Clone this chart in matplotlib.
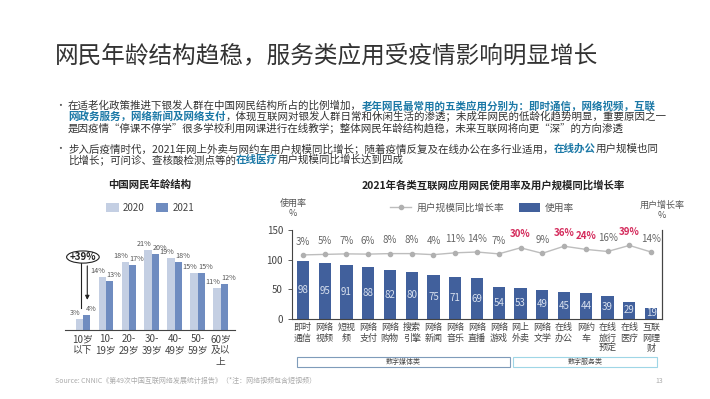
import matplotlib
matplotlib.use("Agg")
import matplotlib.pyplot as plt
from matplotlib.patches import Ellipse, Rectangle
import numpy as np

plt.rcParams['font.family'] = ['Noto Sans CJK SC', 'DejaVu Sans']

# ---------------- data ----------------
age_groups = ["10岁\n以下", "10-\n19岁", "20-\n29岁", "30-\n39岁", "40-\n49岁", "50-\n59岁", "60岁\n及以\n上"]
age_2020 = [3, 14, 18, 21, 19, 15, 11]
age_2021 = [4, 13, 17, 20, 18, 15, 12]

apps = ["即时\n通信", "网络\n视频", "短视\n频", "网络\n支付", "网络\n购物", "搜索\n引擎", "网络\n新闻",
        "网络\n音乐", "网络\n直播", "网络\n游戏", "网上\n外卖", "网络\n文学", "在线\n办公", "网约\n车",
        "在线\n旅行\n预定", "在线\n医疗", "互联\n网理\n财"]
usage = [98, 95, 91, 88, 82, 80, 75, 71, 69, 54, 53, 49, 45, 44, 39, 29, 19]
growth = [3, 5, 7, 6, 8, 8, 4, 11, 14, 7, 30, 9, 36, 24, 16, 39, 14]
highlight = [30, 36, 24, 39]

W, H = 710, 399
fig = plt.figure(figsize=(W / 100, H / 100), dpi=100)
fig.patch.set_facecolor("white")


def fx(x):
    return x / W


def fy(y):
    return 1 - y / H


# ---------------- title ----------------
fig.text(fx(55), fy(56), "网民年龄结构趋稳，服务类应用受疫情影响明显增长", fontsize=17,
         color="#333333", va="center", ha="left")

# ---------------- bullets ----------------
TEAL = "#1b78a6"
DARK = "#333333"
renderer = fig.canvas.get_renderer()


def rich(x, y, segs, size=7.55):
    xx = fx(x)
    for txt, col, bold in segs:
        t = fig.text(xx, fy(y), txt, fontsize=size, color=col,
                     fontweight="bold" if bold else "normal", va="center", ha="left")
        bb = t.get_window_extent(renderer)
        xx += bb.width / W


fig.text(fx(55), fy(106), "•", fontsize=7, color="#555555", va="center")
rich(68, 106, [("在适老化政策推进下银发人群在中国网民结构所占的比例增加，", DARK, False),
               ("老年网民最常用的五类应用分别为：即时通信，网络视频，互联", TEAL, True)])
rich(68, 117, [("网政务服务，网络新闻及网络支付", TEAL, True),
               ("，体现互联网对银发人群日常和休闲生活的渗透；未成年网民的低龄化趋势明显，重要原因之一", DARK, False)])
rich(68, 128, [("是因疫情“停课不停学”很多学校利用网课进行在线教学；整体网民年龄结构趋稳，未来互联网将向更“深”的方向渗透", DARK, False)])
fig.text(fx(55), fy(149), "•", fontsize=7, color="#555555", va="center")
rich(68, 149, [("步入后疫情时代，2021年网上外卖与网约车用户规模同比增长；随着疫情反复及在线办公在多行业适用，", DARK, False),
               ("在线办公", TEAL, True), ("用户规模也同", DARK, False)])
rich(68, 160, [("比增长；可问诊、查核酸检测点等的", DARK, False), ("在线医疗", TEAL, True),
               ("用户规模同比增长达到四成", DARK, False)])

# ---------------- left chart ----------------
C2020 = "#c4cfe3"
C2021 = "#6f8cc0"
ax1 = fig.add_axes([fx(65), fy(330), fx(235) - fx(65), (330 - 216) / H])
x = np.arange(len(age_groups))
bw = 0.32
b1 = ax1.bar(x - bw / 2, age_2020, bw, color=C2020, label="2020")
b2 = ax1.bar(x + bw / 2, age_2021, bw, color=C2021, label="2021")
ax1.set_ylim(0, 30)
ax1.set_xlim(-0.78, 6.62)
for xi, v in zip(x, age_2020):
    ax1.annotate(f"{v}%", (xi - bw / 2, v), xytext=(-3.0, 1.5), textcoords="offset points",
                 ha="center", va="bottom", fontsize=5.2, color="#555555")
for xi, v in zip(x, age_2021):
    ax1.annotate(f"{v}%", (xi + bw / 2, v), xytext=(3.2, 1.5), textcoords="offset points",
                 ha="center", va="bottom", fontsize=5.2, color="#555555")
for s in ["top", "left", "right"]:
    ax1.spines[s].set_visible(False)
ax1.spines["bottom"].set_color("#444444")
ax1.spines["bottom"].set_linewidth(0.8)
ax1.set_yticks([])
ax1.set_xticks(x)
ax1.set_xticklabels(age_groups, fontsize=7, color="#444444", linespacing=1.15)
ax1.tick_params(axis="x", length=0, pad=3)

# +39% annotation
ell_y = 19.2
ax1.add_patch(Ellipse((0, ell_y), 1.42, 3.2, facecolor="white", edgecolor="#222222", lw=0.8, zorder=5))
ax1.text(0, ell_y, "+39%", ha="center", va="center", fontsize=7, fontweight="bold", color="#222222", zorder=6)
ax1.plot([-0.08, -0.08], [ell_y - 1.6, age_2020[0] + 2.8], color="#222222", lw=0.8)
ax1.annotate("", xy=(0.19, age_2021[0] + 3.2), xytext=(0.19, ell_y - 1.6),
             arrowprops=dict(arrowstyle="-|>", color="#222222", lw=0.8, mutation_scale=6))

fig.text(fx(150), fy(185), "中国网民年龄结构", fontsize=7.5, fontweight="bold", color="#222222",
         ha="center", va="center")
fig.legend(handles=[b1, b2], loc="center", bbox_to_anchor=(fx(150), fy(208)), ncol=2,
           frameon=False, fontsize=7, handlelength=1.3, handleheight=1.0, handletextpad=0.4,
           columnspacing=1.2, labelcolor="#444444")

# ---------------- right chart ----------------
CBAR = "#41609c"
ax2 = fig.add_axes([fx(292), fy(319), fx(662) - fx(292), (319 - 230) / H])
xa = np.arange(len(apps))
bars = ax2.bar(xa, usage, 0.56, color=CBAR, label="使用率")
ax2.set_xlim(-0.5, len(apps) - 0.5)
ax2.set_ylim(0, 150)
ax2.set_yticks([0, 50, 100, 150])
ax2.tick_params(axis="y", labelsize=7, colors="#444444", length=3, width=0.6)
ax2.set_xticks(xa)
ax2.set_xticklabels(apps, fontsize=6.5, color="#444444", linespacing=1.2)
ax2.tick_params(axis="x", length=0, pad=3)
for s in ["top"]:
    ax2.spines[s].set_visible(False)
for s in ["left", "bottom", "right"]:
    ax2.spines[s].set_color("#444444")
    ax2.spines[s].set_linewidth(0.8)
for xi, v in zip(xa, usage):
    ax2.text(xi, v / 2, f"{v}", ha="center", va="center", fontsize=7, color="#d8e0ee")

ax3 = ax2.twinx()
ax3.set_ylim(-240, 97.5)
ax3.set_yticks([])
for s in ["top", "left", "bottom"]:
    ax3.spines[s].set_visible(False)
ax3.spines["right"].set_color("#444444")
ax3.spines["right"].set_linewidth(0.8)
line, = ax3.plot(xa, growth, color="#bdbdbd", lw=1.0, marker="o", markersize=3,
                 markerfacecolor="#b0b0b0", markeredgecolor="#b0b0b0", label="用户规模同比增长率")
for xi, g in zip(xa, growth):
    if g in highlight:
        ax3.annotate(f"{g}%", (xi, g), xytext=(0, 6), textcoords="offset points", ha="center",
                     va="bottom", fontsize=7, fontweight="bold", color="#d42a5b")
    else:
        ax3.annotate(f"{g}%", (xi, g), xytext=(0, 6), textcoords="offset points", ha="center",
                     va="bottom", fontsize=7, color="#666666")

fig.text(fx(493), fy(185), "2021年各类互联网应用网民使用率及用户规模同比增长率", fontsize=7.5,
         fontweight="bold", color="#222222", ha="center", va="center")
fig.legend(handles=[line, bars], loc="center", bbox_to_anchor=(fx(482), fy(208)), ncol=2,
           frameon=False, fontsize=7, handlelength=2.2, handleheight=1.0, handletextpad=0.5,
           columnspacing=1.5, labelcolor="#555555")
fig.text(fx(293), fy(208), "使用率\n%", fontsize=6.5, color="#555555", ha="center", va="center",
         linespacing=1.2)
fig.text(fx(662), fy(210), "用户增长率\n%", fontsize=6.5, color="#555555", ha="center", va="center",
         linespacing=1.2)

# category boxes
fig.patches.append(Rectangle((fx(297), fy(367)), fx(510) - fx(297), 10 / H, transform=fig.transFigure,
                             facecolor="none", edgecolor="#7f9cba", lw=0.8))
fig.patches.append(Rectangle((fx(513), fy(367)), fx(657) - fx(513), 10 / H, transform=fig.transFigure,
                             facecolor="none", edgecolor="#9fd6e6", lw=0.8))
fig.text(fx(403), fy(362), "数字媒体类", fontsize=5, color="#444444", ha="center", va="center")
fig.text(fx(585), fy(362), "数字服务类", fontsize=5, color="#444444", ha="center", va="center")

# footer
fig.text(fx(55), fy(381), "Source: CNNIC《第49次中国互联网络发展统计报告》（*注：网络视频包含短视频）",
         fontsize=5, color="#aaaaaa", ha="left", va="center")
fig.text(fx(655), fy(381), "13", fontsize=5, color="#aaaaaa", ha="left", va="center")

fig.savefig("out.png", dpi=100, facecolor="white")
